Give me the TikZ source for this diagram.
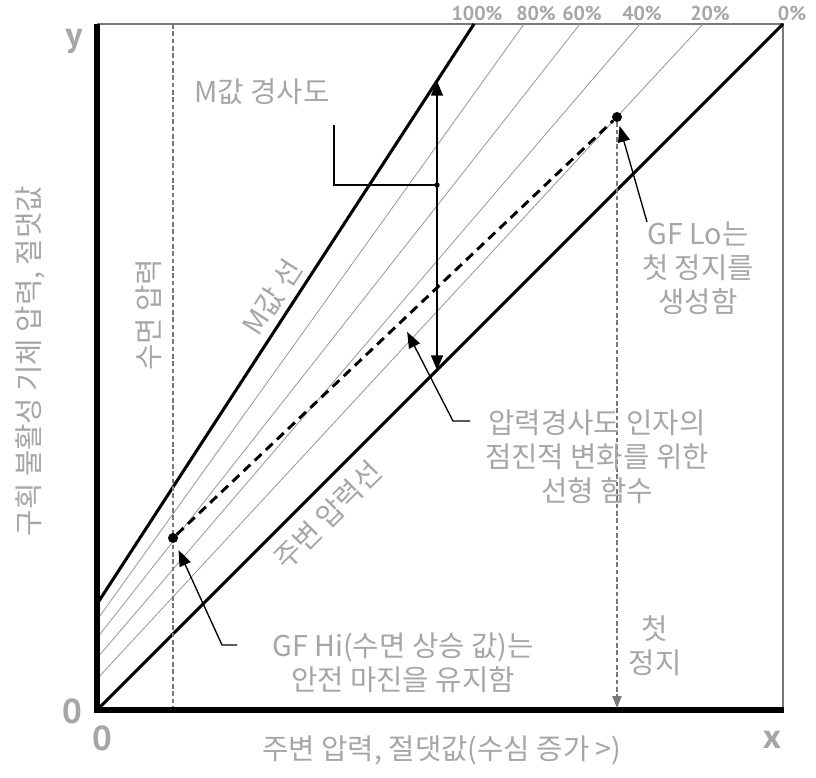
\documentclass[tikz,border=0pt]{standalone}
\usepackage{fontspec}
\setmainfont{Noto Sans CJK KR}
\newfontfamily\numfont{PT Sans}
\usetikzlibrary{arrows.meta, calc, positioning}
\definecolor{txtgray}{RGB}{166,166,166}
\definecolor{framegray}{RGB}{120,120,120}
\definecolor{linegray}{RGB}{150,150,150}

\begin{document}
\begin{tikzpicture}[
  x=0.75pt, y=-0.75pt,
  axis/.style={line width=3.8pt, line join=miter},
  edge/.style={line width=1.2pt, draw=framegray},
  bound/.style={line width=2.3pt},
  ratio/.style={line width=0.6pt, draw=linegray},
  guide/.style={line width=0.8pt, draw=framegray, dash pattern=on 3.5pt off 2pt},
  linfunc/.style={line width=2.2pt, dash pattern=on 7pt off 4.5pt},
  leader/.style={line width=1pt},
  pointer/.style={leader, -{Triangle[length=12pt, width=9pt]}},
  dot/.style={circle, fill=black, inner sep=0pt, minimum size=7.5pt},
  lbl/.style={text=txtgray, align=center, font=\fontsize{21.5}{25.5}\selectfont},
  pct/.style={text=txtgray, font=\numfont\bfseries\fontsize{15}{16}\selectfont},
  tick/.style={text=txtgray, font=\numfont\bfseries\fontsize{26}{28}\selectfont},
]
\useasboundingbox (0,0) rectangle (816,777);

% frame
\coordinate (O) at (97,710);
\coordinate (TL) at (97,24);
\coordinate (TR) at (783,24);
\coordinate (BR) at (784,710);
\draw[edge] (TL) -- (TR) -- (783,710);

% gradient factor lines
\foreach \p/\ya/\xb/\xl in {80/620/524/536, 60/638/580/582, 40/658/640/642, 20/679/703/710}{
  \draw[ratio] (97,\ya) -- (\xb,24);
  \node[pct] at (\xl,14) {\p\%};
}
\node[pct] at (477,14) {100\%};
\node[pct] at (792,14) {0\%};

% M-value line and ambient line
\draw[bound] (97,604) -- (474,24) node[pos=0.51, sloped, above=1pt, lbl] (mLine) {M값 선};
\draw[bound] (O) -- (TR) node[pos=0.31, sloped, below=5pt, lbl] (ambLine) {주변 압력선};

% surface pressure
\draw[guide] (173,24) -- (173,710);
\node[lbl, rotate=90] (surfLbl) at (149,315) {수면 압력};

% axes
\draw[axis] (TL) -- (O) -- (BR);

% GF points
\node[dot] (hiDot) at (173,538) {};
\node[dot] (loDot) at (617,117) {};
\draw[linfunc] (hiDot) -- (loDot);
\coordinate (stopFoot) at (617,708);
\draw[guide, -{Triangle[length=9pt, width=7pt]}] (loDot) -- (stopFoot);

% M-value gradient
\coordinate (gradLo) at (437,370);
\coordinate (gradHi) at (437,81);
\draw[leader, {Triangle[length=11pt, width=9pt]}-{Triangle[length=11pt, width=9pt]}] (gradLo) -- (gradHi);
\coordinate (gradTail) at (334,125);
\coordinate (gradMid) at (437,185);
\draw[leader] (gradTail) |- (gradMid);
\fill (gradMid) circle (2pt);
\node[lbl] (gradLbl) at (262,92) {M값 경사도};

% labels
\node[lbl] (loLbl) at (698,268) {GF Lo는\\첫 정지를\\생성함};
\coordinate (loTail) at (647,222);
\draw[pointer, shorten >=3pt] (loTail) -- (loDot);

\node[lbl] (linLbl) at (597,457) {압력경사도 인자의\\점진적 변화를 위한\\선형 함수};
\coordinate (linTail) at (470,421);
\coordinate (linHit) at ($(hiDot)!0.515!(loDot)$);
\draw[pointer, shorten >=9pt] (linTail) -- ++(-17,0) -- (linHit);

\node[lbl] (hiLbl) at (403,663) {GF Hi(수면 상승 값)는\\안전 마진을 유지함};
\coordinate (hiTail) at (237,645);
\draw[pointer, shorten >=6pt] (hiTail) -- ++(-15,0) -- (hiDot);

\node[lbl] (stopLbl) at (655,646) {첫\\정지};

% axis labels
\node[lbl, rotate=90] (yLbl) at (30,361) {구획 불활성 기체 압력, 절댓값};
\node[lbl] (xLbl) at (442,750) {주변 압력, 절댓값(수심 증가 >)};
\node[tick] at (72,711) {0};
\node[tick] at (102,738) {0};
\node[tick] at (772,740) {x};
\node[tick] at (74,41) {y};
\end{tikzpicture}
\end{document}
